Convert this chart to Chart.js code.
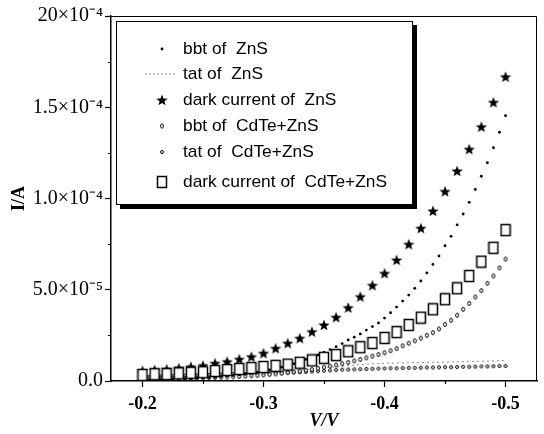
<!DOCTYPE html>
<html><head><meta charset="utf-8">
<script src="https://cdn.jsdelivr.net/npm/chart.js@4/dist/chart.umd.min.js"></script>
<style>html,body{margin:0;padding:0;background:#fff}#wrap{width:544px;height:434px}</style>
</head><body><div id="wrap"><canvas id="c" width="544" height="434"></canvas></div>
<script>
// Values in units of 1e-5 A
const voltsCoarse = [-0.20,-0.21,-0.22,-0.23,-0.24,-0.25,-0.26,-0.27,-0.28,-0.29,-0.30,-0.31,-0.32,-0.33,-0.34,-0.35,-0.36,-0.37,-0.38,-0.39,-0.40,-0.41,-0.42,-0.43,-0.44,-0.45,-0.46,-0.47,-0.48,-0.49,-0.50];
const voltsFine = [-0.200,-0.205,-0.210,-0.215,-0.220,-0.225,-0.230,-0.235,-0.240,-0.245,-0.250,-0.255,-0.260,-0.265,-0.270,-0.275,-0.280,-0.285,-0.290,-0.295,-0.300,-0.305,-0.310,-0.315,-0.320,-0.325,-0.330,-0.335,-0.340,-0.345,-0.350,-0.355,-0.360,-0.365,-0.370,-0.375,-0.380,-0.385,-0.390,-0.395,-0.400,-0.405,-0.410,-0.415,-0.420,-0.425,-0.430,-0.435,-0.440,-0.445,-0.450,-0.455,-0.460,-0.465,-0.470,-0.475,-0.480,-0.485,-0.490,-0.495,-0.500];

const bbtZnS = [0.05,0.06,0.07,0.08,0.09,0.10,0.11,0.12,0.13,0.15,0.17,0.19,0.21,0.24,0.27,0.30,0.34,0.38,0.43,0.48,0.54,0.61,0.68,0.76,0.85,0.95,1.06,1.18,1.30,1.43,1.57,1.72,1.88,2.05,2.25,2.40,2.58,2.79,2.98,3.18,3.45,3.74,4.05,4.38,4.71,5.08,5.48,5.92,6.39,6.85,7.41,7.93,8.56,9.15,9.79,10.50,11.22,11.96,12.78,13.63,14.54];
const tatZnS = [0.15,0.17,0.19,0.21,0.23,0.26,0.29,0.32,0.36,0.40,0.45,0.50,0.55,0.60,0.66,0.72,0.78,0.84,0.90,0.94,0.97,0.99,1.00,1.01,1.02,1.03,1.05,1.07,1.08,1.10,1.12];
const darkZnS = [0.56,0.60,0.64,0.70,0.78,0.84,0.97,1.06,1.19,1.33,1.52,1.79,2.07,2.34,2.70,3.07,3.49,4.02,4.62,5.24,5.90,6.63,7.49,8.37,9.32,10.39,11.51,12.70,13.93,15.27,16.67];
const bbtCdTe = [0.11,0.11,0.12,0.12,0.13,0.13,0.14,0.14,0.15,0.16,0.17,0.18,0.19,0.20,0.22,0.23,0.25,0.27,0.29,0.31,0.33,0.36,0.39,0.42,0.46,0.50,0.54,0.59,0.64,0.70,0.76,0.82,0.88,0.95,1.02,1.10,1.18,1.27,1.36,1.45,1.55,1.66,1.78,1.93,2.07,2.20,2.35,2.50,2.65,2.85,3.10,3.33,3.60,3.93,4.25,4.60,4.95,5.35,5.75,6.20,6.68];
const tatCdTe = [0.22,0.23,0.24,0.25,0.26,0.27,0.28,0.29,0.30,0.31,0.32,0.33,0.34,0.35,0.36,0.37,0.38,0.39,0.40,0.41,0.42,0.43,0.44,0.45,0.46,0.47,0.48,0.50,0.52,0.54,0.56,0.58,0.60,0.62,0.63,0.64,0.65,0.66,0.67,0.68,0.69,0.70,0.70,0.71,0.72,0.72,0.73,0.74,0.74,0.75,0.76,0.76,0.77,0.78,0.78,0.79,0.80,0.80,0.81,0.82,0.82];
const darkCdTe = [0.33,0.37,0.38,0.42,0.45,0.48,0.55,0.60,0.66,0.71,0.77,0.83,0.90,1.00,1.13,1.27,1.42,1.63,1.85,2.08,2.36,2.68,3.07,3.47,3.93,4.48,5.08,5.75,6.54,7.30,8.27];

const seriesNames = ['bbt of  ZnS','tat of  ZnS','dark current of  ZnS','bbt of  CdTe+ZnS','tat of  CdTe+ZnS','dark current of  CdTe+ZnS'];
const yTickLabels = {0:'0.0',5:'5.0\u00D710\u207B\u2075',10:'1.0\u00D710\u207B\u2074',15:'1.5\u00D710\u207B\u2074',20:'20\u00D710\u207B\u2074'};
const xTickLabels = {20:'-0.2',30:'-0.3',40:'-0.4',50:'-0.5'};

function pts(xs, ys){ return xs.map((x,i)=>({x:x,y:ys[i]})); }

function makeStar(r){
  const s=Math.ceil(2*r+2), c=document.createElement('canvas'); c.width=c.height=s;
  const g=c.getContext('2d'); g.fillStyle='#000'; g.beginPath();
  for(let i=0;i<10;i++){const rr=i%2?r*0.42:r; const a=-Math.PI/2+i*Math.PI/5; const px=s/2+rr*Math.cos(a), py=s/2+rr*Math.sin(a)+0.5; i?g.lineTo(px,py):g.moveTo(px,py);}
  g.closePath(); g.fill(); return c;
}
function makeSquare(w,h){
  const c=document.createElement('canvas'); c.width=w+2; c.height=h+2;
  const g=c.getContext('2d'); g.fillStyle='#fff'; g.fillRect(1,1,w,h);
  g.strokeStyle='#000'; g.lineWidth=1.5; g.strokeRect(1.5,1.5,w-1,h-1); return c;
}
function makeRing(w,h){
  const c=document.createElement('canvas'); c.width=w+2; c.height=h+2;
  const g=c.getContext('2d'); g.fillStyle='#fff'; g.strokeStyle='#000'; g.lineWidth=1;
  g.beginPath(); g.ellipse(c.width/2,c.height/2,w/2-0.5,h/2-0.5,0,0,Math.PI*2); g.fill(); g.stroke(); return c;
}
const starImg=makeStar(6), sqImg=makeSquare(10,12), ringA=makeRing(4,5), ringB=makeRing(4,4);

const datasets=[
 {label:seriesNames[0], data:pts(voltsFine,bbtZnS), showLine:false, pointStyle:'circle', pointRadius:1.4, backgroundColor:'#000', borderColor:'#000', borderWidth:0, order:3},
 {label:seriesNames[1], data:pts(voltsCoarse,tatZnS), showLine:true, pointRadius:0, borderColor:'#8a8a8a', borderWidth:1, borderDash:[2,3], order:6},
 {label:seriesNames[2], data:pts(voltsCoarse,darkZnS), showLine:false, pointStyle:starImg, pointRadius:6, order:2},
 {label:seriesNames[3], data:pts(voltsFine,bbtCdTe), showLine:false, pointStyle:ringA, pointRadius:2, order:4},
 {label:seriesNames[4], data:pts(voltsFine,tatCdTe), showLine:false, pointStyle:ringB, pointRadius:2, order:5},
 {label:seriesNames[5], data:pts(voltsCoarse,darkCdTe), showLine:false, pointStyle:sqImg, pointRadius:6, order:1}
];

const legendIcons=[
 (g,x,y)=>{g.fillStyle='#000';g.beginPath();g.arc(x,y,1.4,0,Math.PI*2);g.fill();},
 (g,x,y)=>{g.save();g.strokeStyle='#8a8a8a';g.lineWidth=1;g.setLineDash([2,2]);g.beginPath();g.moveTo(x-17,y);g.lineTo(x+15,y);g.stroke();g.restore();},
 (g,x,y)=>{g.drawImage(starImg,x-starImg.width/2,y-starImg.height/2);},
 (g,x,y)=>{g.drawImage(ringA,x-ringA.width/2,y-ringA.height/2);},
 (g,x,y)=>{g.drawImage(ringB,x-ringB.width/2,y-ringB.height/2);},
 (g,x,y)=>{g.drawImage(sqImg,x-sqImg.width/2,y-sqImg.height/2);}
];

const framePlugin={
 id:'frame',
 afterDraw(chart){
  const g=chart.ctx, a=chart.chartArea, xs=chart.scales.x, ys=chart.scales.y;
  g.save();
  g.strokeStyle='#000'; g.lineWidth=1;
  g.beginPath(); g.moveTo(a.left,a.top+0.5); g.lineTo(a.right-0.5,a.top+0.5); g.lineTo(a.right-0.5,a.bottom); g.stroke();
  g.lineWidth=1.2; g.beginPath();
  [2.5,7.5,12.5,17.5].forEach(v=>{const p=Math.round(ys.getPixelForValue(v))+0.5; g.moveTo(a.left,p); g.lineTo(a.left-3,p);});
  [-0.25,-0.35,-0.45].forEach(v=>{const p=Math.round(xs.getPixelForValue(v))+0.5; g.moveTo(p,a.bottom); g.lineTo(p,a.bottom+3);});
  g.stroke();
  const L=116,T=21,R=413,B=205;
  g.fillStyle='#fff'; g.fillRect(L,T,R-L,B-T);
  g.strokeStyle='#000'; g.lineWidth=1; g.strokeRect(L+0.5,T+0.5,R-L-1,B-T-1);
  g.fillStyle='#000'; g.fillRect(L+4,B,R-L,4); g.fillRect(R,T+4,4,B-T);
  const rows=[49,74,100,126,152,182];
  g.font="17px 'Liberation Sans', Arial, sans-serif"; g.textBaseline='middle';
  const wMax=g.measureText(seriesNames[5]).width; const sx=204/wMax;
  seriesNames.forEach((n,i)=>{
   legendIcons[i](g,162,rows[i]);
   g.save(); g.translate(183,rows[i]); g.scale(sx,1); g.fillStyle='#000'; g.fillText(n,0,0); g.restore();
  });
  g.restore();
 }
};

new Chart(document.getElementById('c'),{
 type:'scatter',
 data:{datasets},
 plugins:[framePlugin],
 options:{
  responsive:false, animation:false, devicePixelRatio:1,
  layout:{padding:{top:16,right:1,left:0,bottom:0}},
  plugins:{legend:{display:false},tooltip:{enabled:false}},
  scales:{
   x:{type:'linear', reverse:true, min:-0.526, max:-0.174,
      afterBuildTicks:(s)=>{s.ticks=[-0.5,-0.45,-0.4,-0.35,-0.3,-0.25,-0.2].map(v=>({value:v}));},
      afterFit:(s)=>{s.height=53;},
      ticks:{autoSkip:false, maxRotation:0, padding:7, color:'#000',
        font:{family:"'Liberation Serif','Times New Roman',serif", size:18, weight:'bold'},
        callback:(v)=>xTickLabels[Math.round(-v*100)]||''},
      grid:{drawOnChartArea:false, tickLength:6, tickWidth:1.2,
        tickColor:(c)=>{const v=c.tick?Math.round(-c.tick.value*100):0; return v%10===0?'#000':'rgba(0,0,0,0)';}},
      border:{display:true,color:'#000',width:1.5},
      title:{display:true,text:'V/V',color:'#000',padding:{top:0,bottom:2},
        font:{family:"'Liberation Serif','Times New Roman',serif", size:18, weight:'bold', style:'italic'}}
   },
   y:{type:'linear', min:0, max:20,
      afterBuildTicks:(s)=>{s.ticks=[0,2.5,5,7.5,10,12.5,15,17.5,20].map(v=>({value:v}));},
      afterFit:(s)=>{s.width=111;},
      ticks:{autoSkip:false, padding:2, color:'#000',
        font:{family:"'Liberation Serif','Times New Roman',serif", size:20},
        callback:(v)=>yTickLabels[v]||''},
      grid:{drawOnChartArea:false, tickLength:6, tickWidth:1.2,
        tickColor:(c)=>{const v=c.tick?c.tick.value:0; return (v%5===0)?'#000':'rgba(0,0,0,0)';}},
      border:{display:true,color:'#000',width:1.5},
      title:{display:true,text:'I/A',color:'#000',padding:{top:9,bottom:0},
        font:{family:"'Liberation Serif','Times New Roman',serif", size:18, weight:'bold'}}
   }
  }
 }
});
</script></body></html>
